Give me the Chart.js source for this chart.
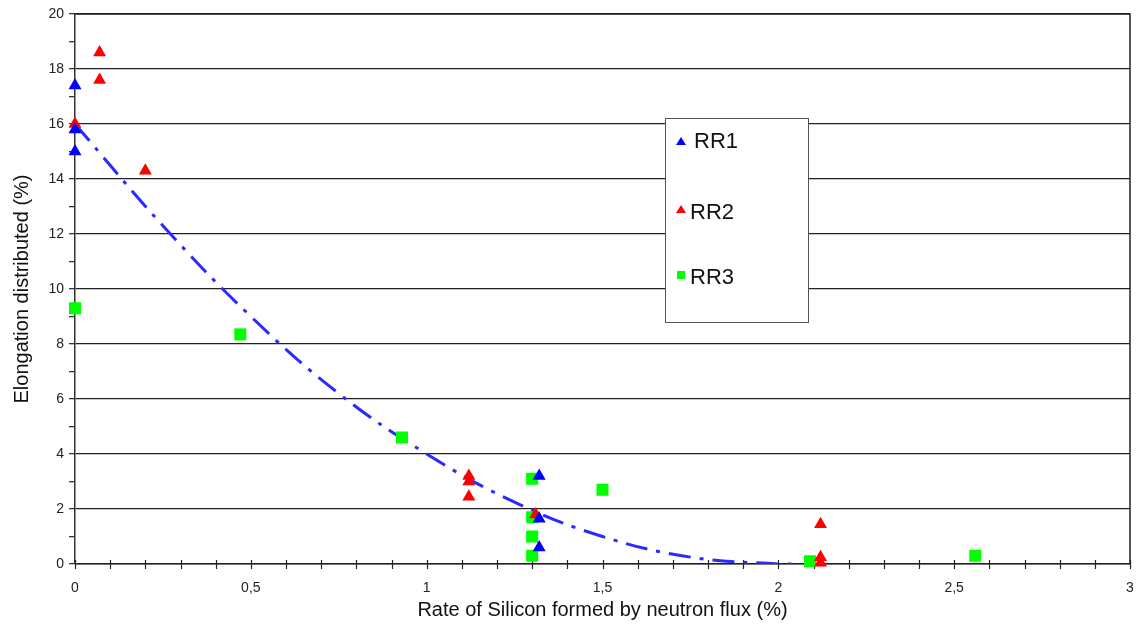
<!DOCTYPE html>
<html>
<head>
<meta charset="utf-8">
<script src="https://cdn.jsdelivr.net/npm/chart.js@4/dist/chart.umd.min.js"></script>
<style>
  html, body { margin: 0; padding: 0; background: #fff; }
  #wrap { width: 1141px; height: 625px; }
</style>
</head>
<body>
<div id="wrap"><canvas id="grafico"></canvas></div>
<script>
// Dados
const rr1X = [0, 0, 0, 1.32, 1.32, 1.32];
const rr1Y = [17.4, 15.8, 15.0, 3.2, 1.65, 0.6];

const rr2X = [0.07, 0.07, 0.2, 0, 1.12, 1.12, 1.12, 1.31, 2.12, 2.12, 2.12];
const rr2Y = [18.6, 17.6, 14.3, 16.0, 3.2, 3.0, 2.45, 1.8, 1.45, 0.25, 0.05];

const rr3X = [0, 0.47, 0.93, 1.3, 1.3, 1.3, 1.3, 1.5, 2.09, 2.56];
const rr3Y = [9.3, 8.35, 4.6, 3.1, 1.7, 1.0, 0.3, 2.7, 0.1, 0.3];

const trendX = [0, 0.25, 0.5, 0.75, 1.0, 1.25, 1.5, 1.75, 2.0, 2.06];
const trendY = [16.0, 12.3, 9.0, 6.2, 4.0, 2.25, 1.0, 0.25, 0.0, 0.0];

const legendLabels = ['RR1', 'RR2', 'RR3'];

const toPoints = (xs, ys) => xs.map((x, i) => ({ x: x, y: ys[i] }));

// Moldura, ticks do eixo x e legenda
const extrasPlugin = {
    id: 'extras',
    beforeDatasetsDraw(chart) {
        const ctx = chart.ctx;
        const area = chart.chartArea;
        const xs = chart.scales.x;
        ctx.save();
        ctx.strokeStyle = '#222';
        ctx.lineWidth = 1.5;
        ctx.beginPath();
        ctx.moveTo(area.left, area.top);
        ctx.lineTo(area.right, area.top);
        ctx.lineTo(area.right, area.bottom);
        ctx.stroke();

        // ticks cruzando o eixo x
        ctx.lineWidth = 1.2;
        for (let v = 0; v <= 30; v++) {
            const px = Math.round(xs.getPixelForValue(v / 10)) + 0.5;
            ctx.beginPath();
            ctx.moveTo(px, area.bottom - 4);
            ctx.lineTo(px, area.bottom + 5);
            ctx.stroke();
        }
        ctx.beginPath();
        ctx.moveTo(area.left, area.bottom);
        ctx.lineTo(area.right, area.bottom);
        ctx.stroke();
        ctx.restore();
    },
    afterDraw(chart) {
        const ctx = chart.ctx;
        ctx.save();
        // legenda
        const lx = 665, ly = 118, lw = 143, lh = 204;
        ctx.fillStyle = '#fff';
        ctx.fillRect(lx, ly, lw, lh);
        ctx.strokeStyle = '#555';
        ctx.lineWidth = 1;
        ctx.strokeRect(lx + 0.5, ly + 0.5, lw, lh);
        const rows = [142, 213, 278];
        const colors = ['#0000ff', '#ff0000', '#00ff00'];
        ctx.font = '22px "Liberation Sans", Arial, sans-serif';
        ctx.textBaseline = 'middle';
        rows.forEach((y, i) => {
            ctx.fillStyle = colors[i];
            if (i < 2) {
                const dy = i === 1 ? -3 : 0;
                ctx.beginPath();
                ctx.moveTo(681, y - 5 + dy);
                ctx.lineTo(686, y + 3 + dy);
                ctx.lineTo(676, y + 3 + dy);
                ctx.closePath();
                ctx.fill();
            } else {
                ctx.fillRect(677, y - 7, 8, 8);
            }
            ctx.fillStyle = '#111';
            ctx.fillText(legendLabels[i], i === 0 ? 694 : 690, y);
        });
        ctx.restore();
    }
};

const ctx = document.getElementById('grafico');

new Chart(ctx, {
    type: 'scatter',
    data: {
        datasets: [
            {
                label: 'Tendência',
                data: toPoints(trendX, trendY),
                showLine: true,
                borderColor: '#2a2aff',
                borderWidth: 3,
                borderDash: [22, 9, 4, 9],
                pointRadius: 0,
                tension: 0.4,
                fill: false,
                order: 4
            },
            {
                label: legendLabels[0],
                data: toPoints(rr1X, rr1Y),
                pointStyle: 'triangle',
                pointRadius: 7.5,
                backgroundColor: '#0000ff',
                borderColor: '#0000ff',
                borderWidth: 0,
                clip: false,
                order: 1
            },
            {
                label: legendLabels[1],
                data: toPoints(rr2X, rr2Y),
                pointStyle: 'triangle',
                pointRadius: 7.5,
                backgroundColor: '#ff0000',
                borderColor: '#ff0000',
                borderWidth: 0,
                clip: false,
                order: 2
            },
            {
                label: legendLabels[2],
                data: toPoints(rr3X, rr3Y),
                pointStyle: 'rect',
                pointRadius: 8.5,
                backgroundColor: '#00ff00',
                borderColor: '#00ff00',
                borderWidth: 0,
                clip: false,
                order: 3
            }
        ]
    },
    options: {
        responsive: true,
        maintainAspectRatio: false,
        animation: false,
        layout: { padding: { left: 0, top: 14, right: 11, bottom: 0 } },
        plugins: {
            legend: { display: false },
            tooltip: { enabled: false }
        },
        scales: {
            x: {
                type: 'linear',
                min: 0,
                max: 3,
                afterFit: (scale) => {
                    scale.height = 61;
                    scale.paddingRight = 0;
                    scale.paddingLeft = 0;
                },
                border: { display: false },
                grid: { drawOnChartArea: false, drawTicks: false },
                ticks: {
                    stepSize: 0.1,
                    autoSkip: false,
                    maxRotation: 0,
                    padding: 16,
                    color: '#222',
                    font: { family: '"Liberation Sans", Arial, sans-serif', size: 14 },
                    callback: (v) => {
                        const r = Math.round(v * 10);
                        if (r % 5 !== 0) return '';
                        return String(r / 10).replace('.', ',');
                    }
                },
                title: {
                    display: true,
                    text: 'Rate of Silicon formed by neutron flux (%)',
                    color: '#111',
                    padding: { top: 0, bottom: 3 },
                    font: { family: '"Liberation Sans", Arial, sans-serif', size: 20 }
                }
            },
            y: {
                min: 0,
                max: 20,
                afterFit: (scale) => { scale.width = 75; },
                border: { display: true, color: '#333', width: 1.5 },
                grid: {
                    color: (c) => (c.tick && Math.round(c.tick.value) % 2 === 0) ? '#222' : 'rgba(0,0,0,0)',
                    lineWidth: 1.3,
                    tickColor: '#333',
                    tickLength: 6
                },
                ticks: {
                    stepSize: 1,
                    autoSkip: false,
                    padding: 5,
                    color: '#222',
                    font: { family: '"Liberation Sans", Arial, sans-serif', size: 14 },
                    callback: (v) => (Math.round(v) % 2 === 0 ? String(v) : '')
                },
                title: {
                    display: true,
                    text: 'Elongation distributed (%)',
                    color: '#111',
                    padding: { top: 10, bottom: 0 },
                    font: { family: '"Liberation Sans", Arial, sans-serif', size: 20 }
                }
            }
        }
    },
    plugins: [extrasPlugin]
});
</script>
</body>
</html>
